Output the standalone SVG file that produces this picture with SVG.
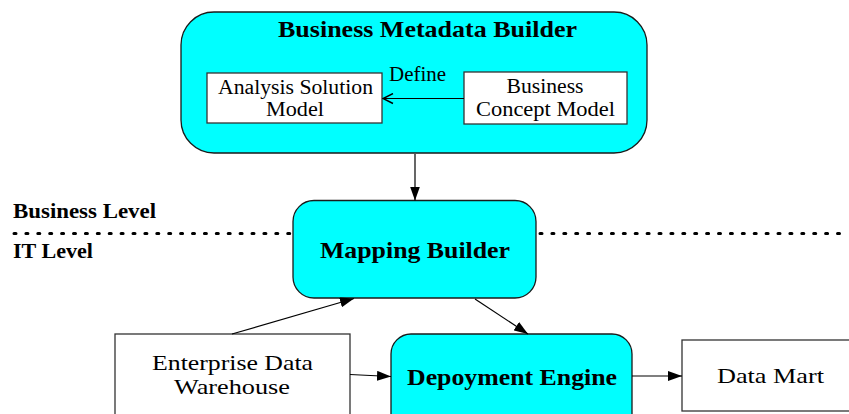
<svg xmlns="http://www.w3.org/2000/svg" width="849" height="414" viewBox="0 0 849 414">
  <style>
    .group { fill: #00ffff; stroke: #1a1a1a; stroke-width: 1.3; }
    .plain { fill: #ffffff; stroke: #333333; stroke-width: 1.3; }
    .edge { fill: none; stroke: #000000; stroke-width: 1.2; }
    .t { font-family: "Liberation Serif", "Times New Roman", serif; fill: #000000; }
    .b { font-weight: bold; }
    .mid { text-anchor: middle; }
    .level { fill: none; stroke: #000000; stroke-width: 3; stroke-linecap: round; stroke-dasharray: 2 9.9; }
  </style>
  <defs>
    <marker id="tri" viewBox="0 0 14 10" refX="14" refY="5" markerWidth="14" markerHeight="10" markerUnits="userSpaceOnUse" orient="auto">
      <path d="M0,0 L14,5 L0,10 Z" fill="#000000"/>
    </marker>
    <marker id="open" viewBox="0 0 12 12" refX="11" refY="6" markerWidth="12" markerHeight="12" markerUnits="userSpaceOnUse" orient="auto">
      <path d="M1,1 L11,6 L1,11" fill="none" stroke="#000000" stroke-width="1.4"/>
    </marker>
  </defs>

  <!-- level separator -->
  <g id="levels">
    <line class="level" x1="14" y1="233.5" x2="292" y2="233.5"/>
    <line class="level" x1="540" y1="233.5" x2="849" y2="233.5"/>
    <text class="t b" x="13" y="217.5" font-size="22" textLength="143" lengthAdjust="spacingAndGlyphs">Business Level</text>
    <text class="t b" x="13" y="258" font-size="22" textLength="80" lengthAdjust="spacingAndGlyphs">IT Level</text>
  </g>

  <g id="business-metadata-builder">
    <rect class="group" x="181" y="12" width="466" height="141" rx="33" ry="33"/>
    <text class="t b" x="278" y="37" font-size="24" textLength="299" lengthAdjust="spacingAndGlyphs">Business Metadata Builder</text>
  </g>

  <g id="analysis-solution-model">
    <rect class="plain" x="207" y="73" width="175" height="50"/>
    <text class="t mid" x="295.5" y="94" font-size="20" textLength="155" lengthAdjust="spacingAndGlyphs">Analysis Solution</text>
    <text class="t mid" x="295" y="115.5" font-size="20" textLength="58" lengthAdjust="spacingAndGlyphs">Model</text>
  </g>

  <g id="business-concept-model">
    <rect class="plain" x="464" y="72" width="163" height="52"/>
    <text class="t mid" x="545" y="93" font-size="20" textLength="77" lengthAdjust="spacingAndGlyphs">Business</text>
    <text class="t mid" x="545.5" y="115.5" font-size="20" textLength="139" lengthAdjust="spacingAndGlyphs">Concept Model</text>
  </g>

  <g id="mapping-builder">
    <rect class="group" x="293" y="200.5" width="243" height="97.5" rx="21" ry="21"/>
    <text class="t b" x="320" y="258" font-size="24" textLength="190" lengthAdjust="spacingAndGlyphs">Mapping Builder</text>
  </g>

  <g id="enterprise-data-warehouse">
    <rect class="plain" x="115" y="334" width="235" height="90"/>
    <text class="t mid" x="232.5" y="370" font-size="22" textLength="161" lengthAdjust="spacingAndGlyphs">Enterprise Data</text>
    <text class="t mid" x="232" y="394" font-size="22" textLength="116" lengthAdjust="spacingAndGlyphs">Warehouse</text>
  </g>

  <g id="deployment-engine">
    <rect class="group" x="391" y="334" width="241" height="100" rx="20" ry="20"/>
    <text class="t b" x="407" y="385" font-size="24" textLength="210" lengthAdjust="spacingAndGlyphs">Depoyment Engine</text>
  </g>

  <g id="data-mart">
    <rect class="plain" x="682" y="340" width="170" height="71"/>
    <text class="t" x="717" y="383" font-size="22" textLength="107" lengthAdjust="spacingAndGlyphs">Data Mart</text>
  </g>

  <g id="connectors">
    <line class="edge" x1="464" y1="98.5" x2="383" y2="98.5" marker-end="url(#open)"/>
    <text class="t" x="389" y="81" font-size="20" textLength="57" lengthAdjust="spacingAndGlyphs">Define</text>
    <line class="edge" x1="415" y1="154" x2="415" y2="200.5" marker-end="url(#tri)"/>
    <line class="edge" x1="232" y1="334" x2="354" y2="298.5" marker-end="url(#tri)"/>
    <line class="edge" x1="475" y1="299" x2="528" y2="334" marker-end="url(#tri)"/>
    <line class="edge" x1="350" y1="374.5" x2="391" y2="376.5" marker-end="url(#tri)"/>
    <line class="edge" x1="632" y1="376" x2="682" y2="376" marker-end="url(#tri)"/>
  </g>
</svg>
